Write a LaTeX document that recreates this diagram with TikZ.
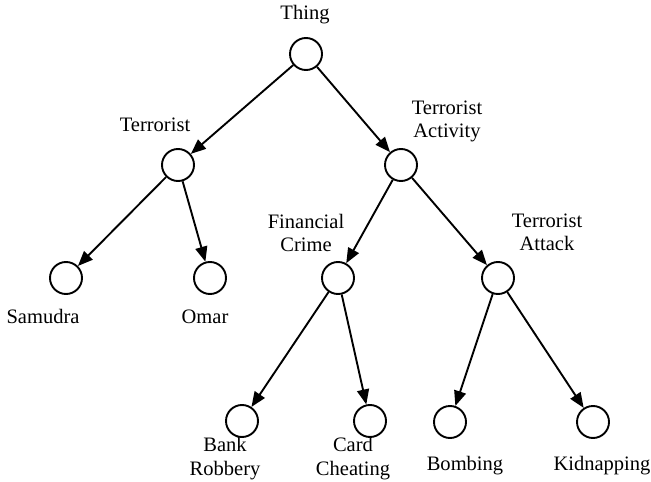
\documentclass[tikz,border=0pt]{standalone}
\usepackage{fontspec}
\setmainfont{Liberation Serif}
\usepackage{tikz}
\usetikzlibrary{arrows.meta, positioning}

\begin{document}
\begin{tikzpicture}[
    x=1bp, y=-1bp,
    concept/.style={draw, circle, line width=1.9bp, minimum size=32bp, inner sep=0pt},
    lbl/.style={anchor=base, align=center, inner sep=0pt, font=\fontsize{20.6}{24}\selectfont},
    link/.style={-{Triangle[length=15bp, width=12bp]}, line width=1.9bp}
]
\useasboundingbox (0,0) rectangle (651,482);

% Concepts
\node[concept] (thing) at (306,54) {};
\node[concept] (terrorist) at (178,165) {};
\node[concept] (activity) at (401,165) {};
\node[concept] (samudra) at (66,278) {};
\node[concept] (omar) at (210,278) {};
\node[concept] (crime) at (338,278) {};
\node[concept] (attack) at (498,278) {};
\node[concept] (bank) at (242,421) {};
\node[concept] (card) at (370,421) {};
\node[concept] (bombing) at (450,422) {};
\node[concept] (kidnap) at (593,422) {};

% Labels
\node[lbl] (thinglbl) at (305,20) {Thing};
\node[lbl] (terroristlbl) at (155,132) {Terrorist};
\node[lbl] (activitylbl) at (447,138) {Terrorist\\Activity};
\node[lbl] (samudralbl) at (43,323) {Samudra};
\node[lbl] (omarlbl) at (205,323) {Omar};
\node[lbl] (crimelbl) at (306,252) {Financial\\Crime};
\node[lbl] (attacklbl) at (547,251) {Terrorist\\Attack};
\node[lbl] (banklbl) at (225,475) {Bank\\Robbery};
\node[lbl] (cardlbl) at (353,475) {Card\\Cheating};
\node[lbl] (bombinglbl) at (465,470) {Bombing};
\node[lbl] (kidnaplbl) at (602,470) {Kidnapping};

% Arrows
\draw[link] (thing) -- (terrorist);
\draw[link] (thing) -- (activity);
\draw[link] (terrorist) -- (samudra);
\draw[link] (terrorist) -- (omar);
\draw[link] (activity) -- (crime);
\draw[link] (activity) -- (attack);
\draw[link] (crime) -- (bank);
\draw[link] (crime) -- (card);
\draw[link] (attack) -- (bombing);
\draw[link] (attack) -- (kidnap);
\end{tikzpicture}
\end{document}
